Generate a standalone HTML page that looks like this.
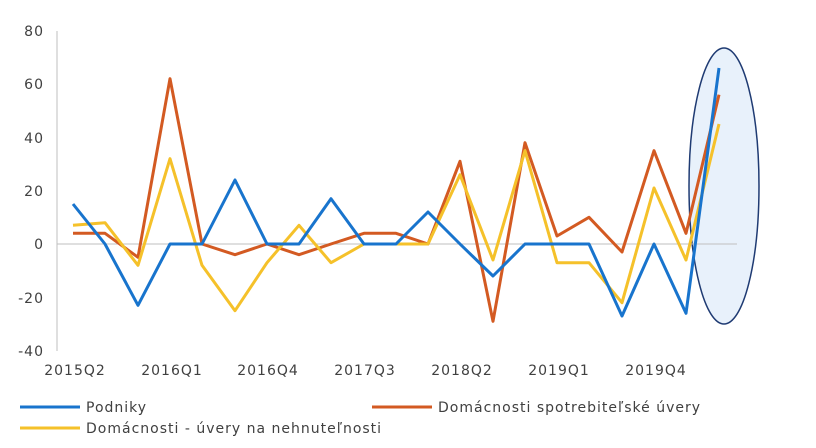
<!DOCTYPE html>
<html><head><meta charset="utf-8"><style>
body{margin:0;background:#fff;}
svg text{font-family:"DejaVu Sans","Liberation Sans",sans-serif;font-size:14px;letter-spacing:1px;fill:#404040;}
</style></head><body>
<svg width="816" height="443" viewBox="0 0 816 443" xmlns="http://www.w3.org/2000/svg">
<ellipse cx="724" cy="186" rx="35" ry="138" fill="#e8f1fb" stroke="#1f3b73" stroke-width="1.5"/>
<line x1="57" y1="31" x2="57" y2="351" stroke="#bfbfbf"/>
<line x1="57" y1="244" x2="737" y2="244" stroke="#bfbfbf"/>
<g text-anchor="end">
<text x="44" y="36">80</text><text x="44" y="89">60</text><text x="44" y="143">40</text>
<text x="44" y="196">20</text><text x="44" y="249">0</text><text x="44" y="303">-20</text><text x="44" y="356">-40</text>
</g>
<g text-anchor="middle">
<text x="75" y="375">2015Q2</text><text x="172" y="375">2016Q1</text><text x="268" y="375">2016Q4</text>
<text x="365" y="375">2017Q3</text><text x="462" y="375">2018Q2</text><text x="559" y="375">2019Q1</text><text x="656" y="375">2019Q4</text>
</g>
<g fill="none" stroke-width="3" stroke-linejoin="round">
<polyline stroke="#d35a22" points="73,233.3 105,233.3 138,257.3 170,78.7 202,244 235,254.7 267,244 299,254.7 331,244 364,233.3 396,233.3 428,244 460,161.3 493,321.3 525,142.7 557,236 589,217.3 622,252 654,150.7 686,233.3 719,94.7"/>
<polyline stroke="#f5c12a" points="73,225.3 105,222.7 138,265.3 170,158.7 202,265.3 235,310.7 267,262.7 299,225.3 331,262.7 364,244 396,244 428,244 460,174.7 493,260 525,150.7 557,262.7 589,262.7 622,302.7 654,188 686,260 719,124"/>
<polyline stroke="#1874cd" points="73,204 105,244 138,305.3 170,244 202,244 235,180 267,244 299,244 331,198.7 364,244 396,244 428,212 460,244 493,276 525,244 557,244 589,244 622,316 654,244 686,313.3 719,68"/>
</g>
<line x1="20" y1="407" x2="80" y2="407" stroke="#1874cd" stroke-width="3"/>
<text x="86" y="412">Podniky</text>
<line x1="372" y1="407" x2="432" y2="407" stroke="#d35a22" stroke-width="3"/>
<text x="438" y="412">Domácnosti spotrebiteľské úvery</text>
<line x1="20" y1="428" x2="80" y2="428" stroke="#f5c12a" stroke-width="3"/>
<text x="86" y="433">Domácnosti - úvery na nehnuteľnosti</text>
</svg>
</body></html>
